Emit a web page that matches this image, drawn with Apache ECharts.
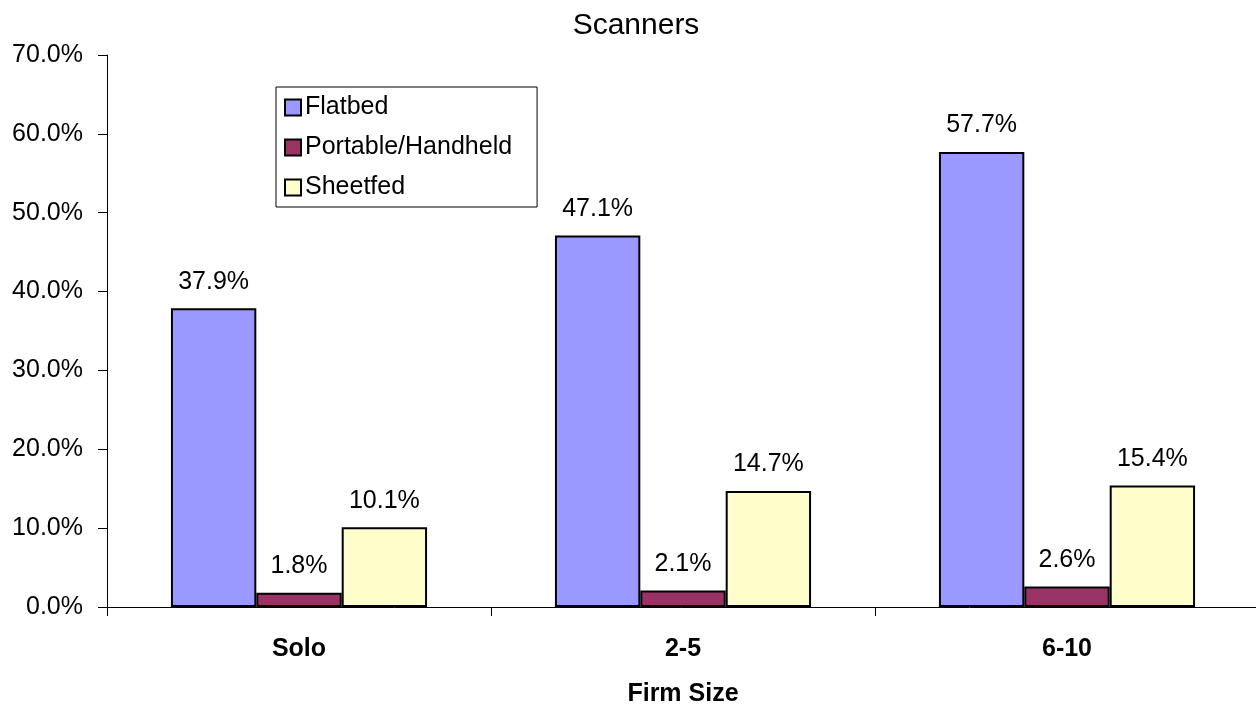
<!DOCTYPE html>
<html>
<head>
<meta charset="utf-8">
<script src="https://cdn.jsdelivr.net/npm/echarts@6/dist/echarts.min.js"></script>
<style>
  html, body { margin: 0; padding: 0; background: #fff; }
  #chart { width: 1256px; height: 710px; }
</style>
</head>
<body>
<div id="chart"></div>
<script>
// Scanner ownership share by firm size
const categories = ['Solo', '2-5', '6-10'];
const flatbed = [37.9, 47.1, 57.7];
const portable = [1.8, 2.1, 2.6];
const sheetfed = [10.1, 14.7, 15.4];
const seriesNames = ['Flatbed', 'Portable/Handheld', 'Sheetfed'];
const seriesColors = ['#9999FF', '#993366', '#FFFFCC'];

const font = 'Liberation Sans, Arial, sans-serif';

function barSeries(name, data, color) {
  return {
    name: name,
    type: 'bar',
    data: data,
    barGap: '0%',
    barCategoryGap: '33.3%',
    itemStyle: { color: color, borderColor: '#000', borderWidth: 2 },
    label: {
      show: true,
      position: 'top',
      distance: 14,
      color: '#000',
      fontFamily: font,
      fontSize: 25,
      formatter: p => p.value.toFixed(1) + '%'
    }
  };
}

const chart = echarts.init(document.getElementById('chart'), null, { renderer: 'canvas' });
chart.setOption({
  backgroundColor: '#fff',
  animation: false,
  title: {
    text: 'Scanners',
    left: 631,
    textAlign: 'center',
    top: 6,
    textStyle: { fontFamily: font, fontSize: 30, fontWeight: 'normal', color: '#000' }
  },
  legend: {
    orient: 'vertical',
    left: 276,
    top: 87,
    padding: [8, 25, 7, 8],
    itemGap: 15,
    icon: 'rect',
    itemWidth: 16,
    itemHeight: 16,
    itemStyle: { borderColor: '#000', borderWidth: 2 },
    backgroundColor: '#fff',
    borderColor: '#000',
    borderWidth: 1,
    textStyle: { fontFamily: font, fontSize: 25, color: '#000', padding: [0, 0, 0, -1] },
    data: seriesNames
  },
  grid: { left: 107, top: 55, right: -3, bottom: 103, containLabel: false, outerBoundsMode: 'none' },
  xAxis: {
    type: 'category',
    data: categories,
    name: 'Firm Size',
    nameLocation: 'middle',
    nameGap: 75,
    nameTextStyle: { fontFamily: font, fontSize: 25, fontWeight: 'bold', color: '#000' },
    axisLine: { lineStyle: { color: '#000', width: 1 } },
    axisTick: { show: true, length: 9, lineStyle: { color: '#000' } },
    axisLabel: { margin: 30, fontFamily: font, fontSize: 25, fontWeight: 'bold', color: '#000' }
  },
  yAxis: {
    type: 'value',
    min: 0,
    max: 70,
    interval: 10,
    axisLine: { show: true, lineStyle: { color: '#000', width: 1 } },
    axisTick: { show: true, length: 9, lineStyle: { color: '#000' } },
    splitLine: { show: false },
    axisLabel: {
      margin: 24,
      fontFamily: font,
      fontSize: 25,
      color: '#000',
      formatter: v => v.toFixed(1) + '%'
    }
  },
  series: [
    barSeries(seriesNames[0], flatbed, seriesColors[0]),
    barSeries(seriesNames[1], portable, seriesColors[1]),
    barSeries(seriesNames[2], sheetfed, seriesColors[2])
  ]
});
</script>
</body>
</html>
